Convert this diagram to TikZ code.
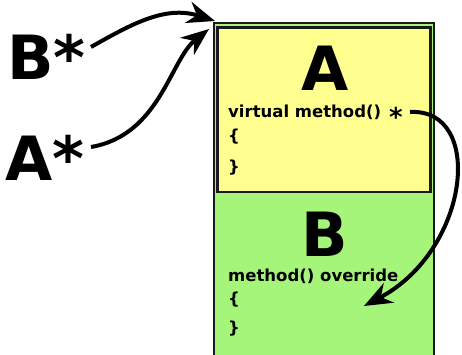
\documentclass[tikz,border=0pt]{standalone}
\usepackage{fontspec}
\setmainfont{DejaVu Sans}
\usetikzlibrary{arrows.meta}
\definecolor{boxyellow}{HTML}{FFFF8F}
\definecolor{boxgreen}{HTML}{A5F57B}
\definecolor{edgecol}{HTML}{1A1A1A}
\begin{document}
\begin{tikzpicture}[x=1pt,y=-1pt,
  big/.style={font=\bfseries\fontsize{61}{61}\selectfont, inner sep=0pt},
  code/.style={font=\bfseries\fontsize{16.5}{17}\selectfont, inner sep=0pt, anchor=base west},
  arr/.style={line width=4pt, -{Stealth[length=28pt,width=22pt,inset=9pt]}}]
\useasboundingbox (0,0) rectangle (462,355);
% outer class B box
\fill[boxgreen, draw=edgecol, line width=2.6pt] (214,23) rectangle (434,370);
% inner A part
\fill[boxyellow, draw=edgecol, line width=2.6pt] (217.5,27.5) rectangle (430.5,192);
\node[big] (A) at (325,68) {A};
\node[code] (virt) at (228,118) {virtual method()};
\node[inner sep=0pt, font=\bfseries\fontsize{26}{26}\selectfont] (star) at (396,117) {*};
\node[code] (ao) at (228,142) {\{};
\node[code] (ac) at (228,172) {\}};
\node[big] (B) at (325,234) {B};
\node[code] (ovr) at (228,281) {method() override};
\node[code] (bo) at (228,304) {\{};
\node[code] (bc) at (228,333) {\}};
% pointer labels
\node[big, anchor=west] (Bp) at (7,57) {B*};
\node[big, anchor=west] (Ap) at (5,158) {A*};
\coordinate (corner) at (215,21);
\coordinate (corner2) at (209,29);
\coordinate (tgt) at (364,306);
\coordinate (st) at (410,112);
\draw[arr] (91,47) .. controls (130,25) and (165,5) .. (corner);
\draw[arr] (91,147) .. controls (160,135) and (170,60) .. (corner2);
\draw[arr] (st) .. controls (485,108) and (470,250) .. (tgt);
\end{tikzpicture}
\end{document}
